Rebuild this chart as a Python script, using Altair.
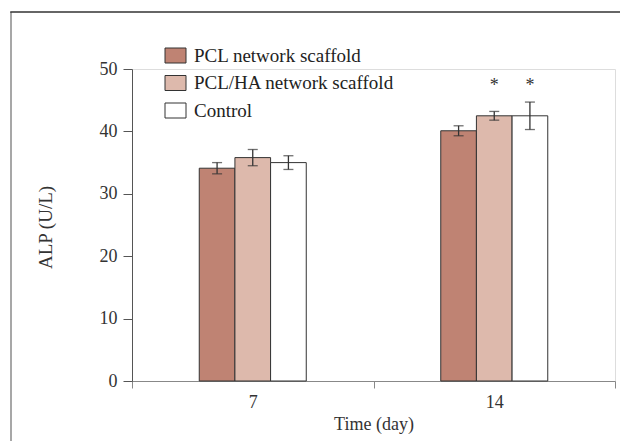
import altair as alt
import pandas as pd

days = ["7", "14"]
groups = ["PCL network scaffold", "PCL/HA network scaffold", "Control"]
colors = ["#BF8373", "#DDB9AC", "#FFFFFF"]
alp_day7 = [34.1, 35.8, 35.0]
alp_day14 = [40.1, 42.5, 42.5]
err_day7 = [0.9, 1.3, 1.1]
err_day14 = [0.8, 0.7, 2.2]
sig_day7 = ["", "", ""]
sig_day14 = ["", "*", "*"]
y_ticks = [0, 10, 20, 30, 40, 50]

rows = []
for d, vals, errs, sigs in [("7", alp_day7, err_day7, sig_day7), ("14", alp_day14, err_day14, sig_day14)]:
    for g, v, e, s in zip(groups, vals, errs, sigs):
        rows.append({"day": d, "group": g, "alp": v, "lo": v - e, "hi": v + e, "sig": s})
df = pd.DataFrame(rows)

FONT = "Liberation Serif"

x = alt.X("day:N", sort=days, title="Time (day)",
          scale=alt.Scale(paddingInner=0, paddingOuter=0),
          axis=alt.Axis(labelAngle=0, tickBand="extent", tickSize=7,
                        domainColor="#888888", tickColor="#888888",
                        labelFont=FONT, labelFontSize=18, labelColor="#333333",
                        labelPadding=5, labelFontWeight="normal",
                        titleFont=FONT, titleFontSize=18, titleColor="#333333",
                        titleFontWeight="normal", titleY=48, titleBaseline="alphabetic"))
xo = alt.XOffset("group:N", sort=groups,
                 scale=alt.Scale(range=[67.25, 174.25], paddingInner=0, paddingOuter=0))
yscale = alt.Scale(domain=[0, 50])

bars = alt.Chart(df).mark_bar(stroke="#333333", strokeWidth=1).encode(
    x=x,
    xOffset=xo,
    y=alt.Y("alp:Q", scale=yscale, title="ALP (U/L)",
            axis=alt.Axis(values=y_ticks, grid=False, tickSize=9,
                          domainColor="#555555", tickColor="#555555",
                          labelFont=FONT, labelFontSize=18, labelColor="#333333",
                          labelPadding=6,
                          titleFont=FONT, titleFontSize=19, titleColor="#333333",
                          titleFontWeight="normal", titleAngle=270,
                          titleX=-87, titleY=158, titleBaseline="middle")),
    fill=alt.Fill("group:N", sort=groups,
                  scale=alt.Scale(domain=groups, range=colors),
                  legend=alt.Legend(title=None, orient="none", legendX=34, legendY=-23,
                                    symbolType="M-1.4,-1H1.4V1H-1.4Z", symbolSize=225,
                                    symbolStrokeColor="#333333", symbolStrokeWidth=1,
                                    labelFont=FONT, labelFontSize=19, labelColor="#222222",
                                    labelOffset=9, rowPadding=7.5, padding=0,
                                    labelLimit=400)),
)

err = alt.Chart(df).mark_rule(color="#333333", strokeWidth=1.3).encode(
    x=x, xOffset=xo, y=alt.Y("lo:Q", scale=yscale), y2="hi:Q")

caps_hi = alt.Chart(df).mark_tick(color="#333333", thickness=1.3, size=10).encode(
    x=x, xOffset=xo, y=alt.Y("hi:Q", scale=yscale))
caps_lo = alt.Chart(df).mark_tick(color="#333333", thickness=1.3, size=10).encode(
    x=x, xOffset=xo, y=alt.Y("lo:Q", scale=yscale))

stars = alt.Chart(df).mark_text(font=FONT, fontSize=18, color="#333333",
                                baseline="alphabetic").encode(
    x=x, xOffset=xo, y=alt.datum(46.5), text="sig:N")

frame_df = pd.DataFrame({"k": [0]})
frame_left = alt.Chart(frame_df).mark_rule(color="#8a8a8a", strokeWidth=1.5).encode(
    x=alt.value(-121), y=alt.value(-57), y2=alt.value(380))
frame_top = alt.Chart(frame_df).mark_rule(color="#333333", strokeWidth=1.5).encode(
    x=alt.value(-121.75), x2=alt.value(500), y=alt.value(-57))

chart = alt.layer(frame_left, frame_top, bars, err, caps_hi, caps_lo, stars).properties(
    width=483, height=312,
    autosize=alt.AutoSizeParams(type="none"),
    padding={"left": 132, "top": 69, "right": 5, "bottom": 60},
).configure_view(stroke=None).configure(background="white", font=FONT).configure_legend(
    labelFont=FONT)

chart.save("out.html", embed_options={"renderer": "svg", "actions": False})
